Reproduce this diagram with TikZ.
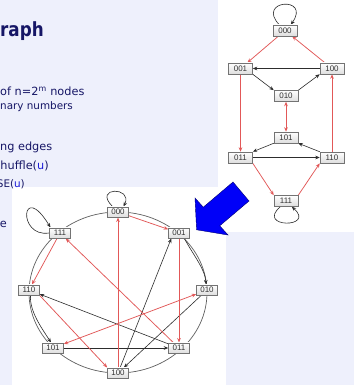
\documentclass[tikz,border=0pt]{standalone}
\usepackage{fontspec}
\setmainfont{DejaVu Sans}
\newfontfamily\labelfont{Liberation Sans}
\newfontfamily\headfont[FakeStretch=0.86]{DejaVu Sans}
\usetikzlibrary{arrows.meta,shadows}

\definecolor{slidebg}{RGB}{238,240,252}
\definecolor{slideink}{RGB}{22,22,102}
\definecolor{varblue}{RGB}{25,25,215}
\definecolor{exred}{RGB}{226,88,88}
\definecolor{shufgray}{RGB}{45,45,45}
\definecolor{ringgray}{RGB}{95,95,95}
\definecolor{callout}{RGB}{0,0,248}

\pgfdeclarelayer{panel}
\pgfdeclarelayer{wires}
\pgfsetlayers{panel,wires,main}

\tikzset{
  vtx/.style={draw=black!55, line width=0.5pt, top color=white, bottom color=black!13,
    font=\labelfont\fontsize{8}{8}\selectfont, text=black!80, inner sep=0pt,
    minimum width=24pt, minimum height=11pt,
    drop shadow={shadow xshift=0.6pt, shadow yshift=-0.6pt, opacity=0.22}},
  cvtx/.style={vtx, minimum width=21pt, minimum height=10.5pt},
  arrowend/.style={-{Stealth[length=4.5pt,width=3.6pt]}},
  shuf/.style={draw=shufgray, line width=0.6pt, arrowend},
  exch/.style={draw=exred, line width=0.75pt, arrowend},
  exchboth/.style={draw=exred, line width=0.75pt,
    {Stealth[length=4.5pt,width=3.6pt]}-{Stealth[length=4.5pt,width=3.6pt]}},
  ring/.style={draw=ringgray, line width=0.7pt},
  slidetext/.style={inner sep=0pt, text=slideink},
  big/.style={font=\fontsize{11.3}{13}\selectfont},
  small/.style={font=\fontsize{10.4}{12}\selectfont},
}

\begin{document}
\begin{tikzpicture}[x=1pt,y=-1pt]
\useasboundingbox (0,0) rectangle (354,385);
\clip (0,0) rectangle (354,385);

\begin{pgfonlayer}{panel}
  \fill[slidebg] (0,0) rectangle (354,385);
  \fill[white] (218,0) rectangle (354,232);
  \fill[white] (12,187) rectangle (226,385);
\end{pgfonlayer}

% slide text
\node[slidetext, anchor=base west, font=\headfont\bfseries\fontsize{19.5}{22}\selectfont] (title) at (0,37) {raph};
\node[slidetext, big, anchor=base west] (l1) at (0,95.5) {of n=2\textsuperscript{m} nodes};
\node[slidetext, small, anchor=base west] (l2) at (0,110) {nary numbers};
\node[slidetext, big, anchor=base west] (l3) at (0,150) {ng edges};
\node[slidetext, big, anchor=base west] (l4) at (0.3,169) {huffle(\textcolor{varblue}{u})};
\node[slidetext, small, anchor=base east] (l5) at (25,187.5) {SE(\textcolor{varblue}{u})};
\node[slidetext, big, anchor=base west] (l6) at (-0.3,227.5) {e};

% layered drawing of the shuffle-exchange graph
\node[vtx] (u000) at (285,30.5) {000};
\node[vtx] (u001) at (240.5,68.5) {001};
\node[vtx] (u100) at (332,68.5) {100};
\node[vtx] (u010) at (286,96) {010};
\node[vtx] (u101) at (286,137.5) {101};
\node[vtx] (u011) at (240.5,157.5) {011};
\node[vtx] (u110) at (332,157.5) {110};
\node[vtx] (u111) at (286,201) {111};

% circular drawing of the same graph
\node[cvtx] (c000) at (118,212) {000};
\node[cvtx] (c001) at (179,233) {001};
\node[cvtx] (c010) at (207,290) {010};
\node[cvtx] (c011) at (179,348) {011};
\node[cvtx] (c100) at (118,373) {100};
\node[cvtx] (c101) at (53,348) {101};
\node[cvtx] (c110) at (29,290) {110};
\node[cvtx] (c111) at (60,233) {111};

\begin{pgfonlayer}{wires}
  % layered graph: shuffle edges
  \draw[shuf] (u100) -- (u001);
  \draw[shuf] (u001.south east) -- (u010.north west);
  \draw[shuf] (u010.north east) -- (u100.south west);
  \draw[shuf] (u011) -- (u110);
  \draw[shuf] (u110.north west) -- (u101.south east);
  \draw[shuf] (u101.south west) -- (u011.north east);
  \draw[shuf] (u000.135) .. controls +(-23.5,-25) and +(20.5,-29) .. (u000.45);
  \draw[shuf] (u111.-135) .. controls +(-24.5,21.5) and +(24.5,21.5) .. (u111.-45);
  % layered graph: shuffle-exchange edges
  \draw[exch] (u000) -- (u001);
  \draw[exch] (u100) -- (u000);
  \draw[exch] (u001) -- (u011);
  \draw[exch] (u110) -- (u100);
  \draw[exchboth] (u010) -- (u101);
  \draw[exch] (u011.south east) -- (u111.north west);
  \draw[exch] (u111.north east) -- (u110.south west);

  % circular graph: ring
  \draw[ring] (118,292.5) ellipse [x radius=89, y radius=80.5];
  % circular graph: shuffle edges
  \draw[shuf] (c001.-45) .. controls +(7,14) and +(-1,-16) .. (c010.100);
  \draw[shuf] (c010) -- (c100);
  \draw[shuf] (c100) -- ([xshift=3pt]c001.south west);
  \draw[shuf] (c011) -- (c110);
  \draw[shuf] (c110.-75) .. controls +(-1,16) and +(-9,-14) .. (c101.110);
  \draw[shuf] (c101) -- (c011);
  \draw[shuf] (c000.135) .. controls +(-20,-20) and +(10,-20) .. (c000.45);
  \draw[shuf] (c111.west) .. controls +(-32.5,5) and +(-28.9,-47.75) .. (c111.150);
  % circular graph: shuffle-exchange edges
  \draw[exch] (c000) -- (c001);
  \draw[exch] (c100) -- (c000);
  \draw[exch] (c001) -- (c011);
  \draw[exch] (c011) -- (c111);
  \draw[exch] (c111) -- (c110);
  \draw[exch] (c110.south east) -- (c100.north west);
  \draw[exchboth] (c010) -- (c101);
\end{pgfonlayer}

% block arrow between the two drawings
\filldraw[fill=callout, draw=blue!45!black, line width=0.4pt]
  (233,182) -- (249,201) -- (219.7,225.8) -- (228,235) -- (196.6,229.8)
  -- (195,198) -- (203.3,207.2) -- cycle;
\end{tikzpicture}
\end{document}
